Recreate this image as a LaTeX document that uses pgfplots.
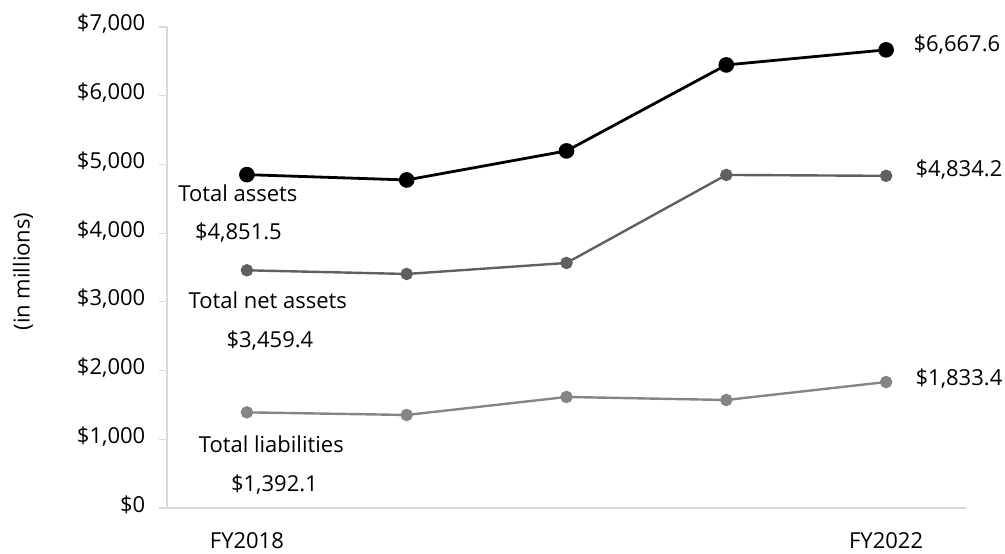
\documentclass[border=0pt]{standalone}
\usepackage{fontspec}
\setmainfont{Open Sans}
\usepackage{pgfplots}
\pgfplotsset{compat=1.18}

\definecolor{assetcol}{HTML}{000000}
\definecolor{netcol}{HTML}{606060}
\definecolor{liabcol}{HTML}{858585}
\definecolor{axiscol}{HTML}{D9D9D9}

\begin{document}
\fontsize{11}{13}\selectfont
\begin{tikzpicture}
  \useasboundingbox (-83.5pt,-22.5pt) rectangle (419pt,254pt);
  \begin{axis}[
    scale only axis,
    width=399.5pt, height=240.5pt,
    at={(0,0)}, anchor=south west,
    xmin=-0.5, xmax=4.5,
    ymin=0, ymax=7000,
    axis x line*=bottom,
    axis y line*=left,
    axis line style={axiscol, line width=0.6pt},
    xtick={0,4},
    xticklabels={FY2018,FY2022},
    xtick style={draw=none},
    ytick={0,1000,...,7000},
    ytick align=outside,
    ytick style={axiscol, line width=0.6pt},
    major tick length=4pt,
    scaled y ticks=false,
    yticklabel={\$\pgfmathprintnumber[assume math mode=true,1000 sep={,}]{\tick}},
    yticklabel style={xshift=-3pt, yshift=1.5pt},
    xticklabel style={anchor=base, yshift=-20pt},
    tick label style={font=\fontsize{11}{13}\selectfont},
    every node/.append style={font=\fontsize{11}{13}\selectfont},
    clip=false,
  ]
    % total assets
    \addplot[assetcol, line width=1.4pt, mark=*, mark size=3.2pt]
      coordinates {(0,4851.5) (1,4774) (2,5197) (3,6448) (4,6667.6)};
    % total net assets
    \addplot[netcol, line width=1.2pt, mark=*, mark size=2.5pt]
      coordinates {(0,3459.4) (1,3406) (2,3566) (3,4847) (4,4834.2)};
    % total liabilities
    \addplot[liabcol, line width=1.2pt, mark=*, mark size=2.5pt]
      coordinates {(0,1392.1) (1,1354) (2,1616) (3,1572) (4,1833.4)};

    \node[anchor=base, inner sep=0pt] at (axis cs:-0.056,4454) {Total assets};
    \node[anchor=base, inner sep=0pt] at (axis cs:-0.053,3901) {\$4,851.5};
    \node[anchor=base, inner sep=0pt] at (axis cs:0.131,2897) {Total net assets};
    \node[anchor=base, inner sep=0pt] at (axis cs:0.144,2329) {\$3,459.4};
    \node[anchor=base, inner sep=0pt] at (axis cs:0.153,815) {Total liabilities};
    \node[anchor=base, inner sep=0pt] at (axis cs:0.172,247) {\$1,392.1};
    \node[anchor=base west, inner sep=0pt] at (axis cs:4.169,6638) {\$6,667.6};
    \node[anchor=base west, inner sep=0pt] at (axis cs:4.182,4818) {\$4,834.2};
    \node[anchor=base west, inner sep=0pt] at (axis cs:4.182,1790) {\$1,833.4};

    \node[rotate=90] at ([xshift=-72pt, yshift=-2pt]rel axis cs:0,0.5) {(in millions)};
  \end{axis}
\end{tikzpicture}
\end{document}
